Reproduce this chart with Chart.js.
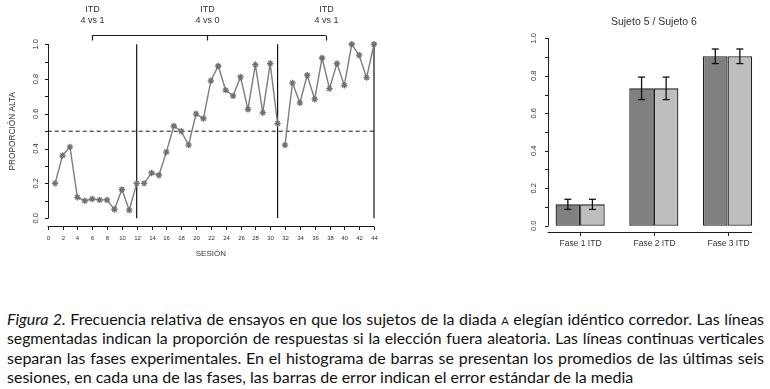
<!DOCTYPE html>
<html>
<head>
<meta charset="utf-8">
<script src="https://cdn.jsdelivr.net/npm/chart.js@4/dist/chart.umd.min.js"></script>
<style>
  html, body { margin: 0; padding: 0; background: #fff; }
  body { width: 770px; height: 389px; position: relative; overflow: hidden; }
  #left { position: absolute; left: 0; top: 0; }
  #right { position: absolute; left: 480px; top: 0; }
  #cap { position: absolute; left: 7px; top: 309px; width: 757px;
         font-family: Lato, "Open Sans", sans-serif; font-size: 16px; line-height: 19.4px; color: #111; }
  #cap .l { text-align: justify; text-align-last: justify; white-space: nowrap; }
  #cap .l.last { text-align-last: left; }
  #cap .sc { font-variant: small-caps; }
</style>
</head>
<body>
<canvas id="left" width="390" height="265"></canvas>
<canvas id="right" width="290" height="265"></canvas>
<div id="cap">
  <div class="l"><i>Figura 2.</i> Frecuencia relativa de ensayos en que los sujetos de la diada <span class="sc">a</span> elegían idéntico corredor. Las líneas</div>
  <div class="l">segmentadas indican la proporción de respuestas si la elección fuera aleatoria. Las líneas continuas verticales</div>
  <div class="l">separan las fases experimentales. En el histograma de barras se presentan los promedios de las últimas seis</div>
  <div class="l last">sesiones, en cada una de las fases, las barras de error indican el error estándar de la media</div>
</div>
<script>
// ---------- DATA ----------
const sessions = [1,2,3,4,5,6,7,8,9,10,11,12,13,14,15,16,17,18,19,20,21,22,23,24,25,26,27,28,29,30,31,32,33,34,35,36,37,38,39,40,41,42,43,44];
const proportionAlta = [0.20,0.36,0.41,0.12,0.10,0.11,0.105,0.105,0.05,0.165,0.046,0.20,
                        0.20,0.26,0.247,0.38,0.53,0.50,0.42,0.60,0.573,0.79,0.875,0.736,0.703,0.812,0.626,0.883,0.607,0.889,0.544,
                        0.42,0.778,0.663,0.822,0.684,0.921,0.745,0.889,0.764,1.0,0.937,0.808,1.0];
const phaseBreaks = [12, 31, 44];          // continuous vertical lines (last session of each phase)
const chanceLevel = 0.5;                    // dashed line
const phaseLabelSessions = [6, 21.5, 37.5];
const phaseLabels = [["ITD","4 vs 1"],["ITD","4 vs 0"],["ITD","4 vs 1"]];
const xTickLabels = ["0","2","4","6","8","10","12","14","16","18","20","22","24","26","28","30","32","34","36","38","40","42","44"];
const yTickLabels = ["0.0","0.2","0.4","0.6","0.8","1.0"];
const xAxisTitle = "SESIÓN";
const yAxisTitle = "PROPORCIÓN ALTA";

const barTitle = "Sujeto 5 / Sujeto 6";
const barCategories = ["Fase 1 ITD","Fase 2 ITD","Fase 3 ITD"];
const sujeto5Mean = [0.114, 0.733, 0.904];
const sujeto5SE   = [0.027, 0.060, 0.039];
const sujeto6Mean = [0.114, 0.733, 0.904];
const sujeto6SE   = [0.027, 0.060, 0.039];

// ---------- helpers ----------
const AX = '#1c1c1c', TXT = '#333';
function seg(ctx, x1, y1, x2, y2) { ctx.beginPath(); ctx.moveTo(x1, y1); ctx.lineTo(x2, y2); ctx.stroke(); }

function drawYAxis(chart, o) {
  const { ctx, chartArea: ca } = chart; const ys = chart.scales.y;
  const vals = o.yLabels.map(parseFloat);
  const lo = vals[0], hi = vals[vals.length - 1];
  ctx.save();
  ctx.strokeStyle = AX; ctx.lineWidth = 1;
  const ax = Math.round(ca.left) + 0.5;
  seg(ctx, ax, ys.getPixelForValue(lo), ax, ys.getPixelForValue(hi));
  for (let v = lo; v <= hi + 1e-9; v += o.yMinor) {
    const p = Math.round(ys.getPixelForValue(v)) + 0.5;
    seg(ctx, ax - o.tickLen, p, ax, p);
  }
  ctx.fillStyle = TXT; ctx.font = o.yFont; ctx.textAlign = 'center'; ctx.textBaseline = 'middle';
  o.yLabels.forEach((lab, i) => {
    ctx.save();
    ctx.translate(ax - o.yLabOff, ys.getPixelForValue(vals[i]));
    ctx.rotate(-Math.PI / 2);
    ctx.fillText(lab, 0, 0);
    ctx.restore();
  });
  ctx.restore();
}

// ---------- LEFT: line chart ----------
const pts = sessions.map((s, i) => ({ x: s, y: proportionAlta[i] }));
const phaseStarts = [1].concat(phaseBreaks.slice(0, -1).map(b => b + 1));
const lineSets = phaseBreaks.map((b, k) => ({
  type: 'line',
  data: pts.filter(p => p.x >= phaseStarts[k] && p.x <= b),
  borderColor: '#7d7d7d', borderWidth: 1.4,
  pointStyle: 'star', pointRadius: 3.2, pointBorderColor: '#707070', pointBorderWidth: 1.3,
  pointBackgroundColor: '#707070', tension: 0, clip: false, order: 1
}));
const chanceSet = {
  type: 'line',
  data: [{ x: 0, y: chanceLevel }, { x: sessions[sessions.length - 1], y: chanceLevel }],
  borderColor: '#111', borderWidth: 1, borderDash: [4, 3], pointRadius: 0, clip: false, order: 2
};
const breakSets = phaseBreaks.map(b => ({
  type: 'line',
  data: [{ x: b, y: 0 }, { x: b, y: 1 }],
  borderColor: '#111', borderWidth: 1.2, pointRadius: 0, clip: false, order: 2
}));

const leftDecor = {
  id: 'leftDecor',
  afterDraw(chart) {
    const { ctx, chartArea: ca } = chart; const xs = chart.scales.x, ys = chart.scales.y;
    drawYAxis(chart, { yLabels: yTickLabels, yMinor: 0.1, tickLen: 3.5, yLabOff: 12.5, yFont: '7.5px "Liberation Sans", Arial, sans-serif' });
    ctx.save();
    ctx.strokeStyle = AX; ctx.lineWidth = 1;
    const xv = xTickLabels.map(parseFloat);
    const yb = Math.round(ca.bottom) + 0.5;
    seg(ctx, xs.getPixelForValue(xv[0]), yb, xs.getPixelForValue(xv[xv.length - 1]), yb);
    ctx.fillStyle = TXT; ctx.font = '6px "Liberation Sans", Arial, sans-serif';
    ctx.textAlign = 'center'; ctx.textBaseline = 'middle';
    xv.forEach((v, i) => {
      const p = Math.round(xs.getPixelForValue(v)) + 0.5;
      seg(ctx, p, yb, p, yb + 3.5);
      ctx.fillText(xTickLabels[i], p, yb + 11.5);
    });
    ctx.font = '8px "Liberation Sans", Arial, sans-serif';
    ctx.fillText(xAxisTitle, xs.getPixelForValue(22), yb + 27);
    ctx.save();
    ctx.translate(13, ys.getPixelForValue(0.5));
    ctx.rotate(-Math.PI / 2);
    ctx.font = '8.3px "Liberation Sans", Arial, sans-serif';
    ctx.fillText(yAxisTitle, 0, 0);
    ctx.restore();
    const by = Math.round(ca.top) - 0.5 - 1;
    const xA = xs.getPixelForValue(phaseLabelSessions[0]);
    const xB = xs.getPixelForValue(phaseLabelSessions[phaseLabelSessions.length - 1]);
    ctx.lineWidth = 1.2;
    seg(ctx, xA, by, xB, by);
    ctx.font = '9px "Liberation Sans", Arial, sans-serif';
    phaseLabelSessions.forEach((s, i) => {
      const p = Math.round(xs.getPixelForValue(s)) + 0.5;
      seg(ctx, p, by, p, by + 5);
      ctx.fillText(phaseLabels[i][0], p, by - 25.5);
      ctx.fillText(phaseLabels[i][1], p, by - 14.5);
    });
    ctx.restore();
  }
};

new Chart(document.getElementById('left'), {
  type: 'line',
  data: { datasets: [...breakSets, chanceSet, ...lineSets] },
  options: {
    responsive: false, animation: false, devicePixelRatio: 1,
    layout: { padding: { left: 47.7, right: 16, top: 37.3, bottom: 39 } },
    scales: {
      x: { type: 'linear', min: 0, max: 44, display: false },
      y: { type: 'linear', min: -0.045, max: 1.04, display: false }
    },
    plugins: { legend: { display: false }, tooltip: { enabled: false } }
  },
  plugins: [leftDecor]
});

// ---------- RIGHT: bar chart ----------
const groupPos = barCategories.map((_, i) => 2 + 3 * i);
const errPlugin = {
  id: 'errBars',
  afterDatasetsDraw(chart) {
    const { ctx } = chart; const ys = chart.scales.y;
    ctx.save(); ctx.strokeStyle = '#111'; ctx.lineWidth = 1.3;
    chart.data.datasets.forEach((ds, di) => {
      chart.getDatasetMeta(di).data.forEach((el, i) => {
        const m = ds.data[i].y, se = ds.se[i];
        const t = ys.getPixelForValue(m + se), b = ys.getPixelForValue(m - se);
        seg(ctx, el.x, t, el.x, b);
        seg(ctx, el.x - 3.5, t, el.x + 3.5, t);
        seg(ctx, el.x - 3.5, b, el.x + 3.5, b);
      });
    });
    ctx.restore();
  }
};
const rightDecor = {
  id: 'rightDecor',
  afterDraw(chart) {
    const { ctx, chartArea: ca } = chart; const xs = chart.scales.x;
    drawYAxis(chart, { yLabels: yTickLabels, yMinor: 0.1, tickLen: 3.5, yLabOff: 14.5, yFont: '7.5px "Liberation Sans", Arial, sans-serif' });
    ctx.save(); ctx.strokeStyle = AX; ctx.lineWidth = 1;
    const meta = chart.getDatasetMeta(chart.data.datasets.length - 1);
    const last = meta.data[meta.data.length - 1];
    const yb = Math.round(ca.bottom) + 0.5;
    seg(ctx, ca.left, yb, last.x + last.width / 2, yb);
    ctx.fillStyle = TXT; ctx.font = '8.5px "Liberation Sans", Arial, sans-serif';
    ctx.textAlign = 'center'; ctx.textBaseline = 'middle';
    groupPos.forEach((g, i) => {
      const p = Math.round(xs.getPixelForValue(g)) + 0.5;
      seg(ctx, p, yb, p, yb + 3.5);
      ctx.fillText(barCategories[i], p, yb + 11.5);
    });
    ctx.font = '10.5px "Liberation Sans", Arial, sans-serif';
    ctx.fillText(barTitle, xs.getPixelForValue(groupPos[1]), 22.5);
    ctx.restore();
  }
};

const barCommon = { borderColor: '#1e1e1e', borderWidth: 1.3, borderSkipped: false,
                    categoryPercentage: 2 / 3, barPercentage: 1 };
new Chart(document.getElementById('right'), {
  type: 'bar',
  data: {
    datasets: [
      Object.assign({ label: 'Sujeto 5', data: groupPos.map((g, i) => ({ x: g, y: sujeto5Mean[i] })), se: sujeto5SE,
        backgroundColor: '#808080' }, barCommon),
      Object.assign({ label: 'Sujeto 6', data: groupPos.map((g, i) => ({ x: g, y: sujeto6Mean[i] })), se: sujeto6SE,
        backgroundColor: '#bebebe' }, barCommon)
    ]
  },
  options: {
    responsive: false, animation: false, devicePixelRatio: 1,
    layout: { padding: { left: 67.7, right: 10, top: 30.8, bottom: 33.3 } },
    scales: {
      x: { type: 'linear', offset: false, min: 0.68, max: 9.32, display: false,
           grid: { offset: false },
           afterBuildTicks: s => { s.ticks = groupPos.map(v => ({ value: v })); } },
      y: { type: 'linear', min: -0.032, max: 1.04, display: false }
    },
    plugins: { legend: { display: false }, tooltip: { enabled: false } }
  },
  plugins: [errPlugin, rightDecor]
});

// keep caption lines inside their width
document.querySelectorAll('#cap .l').forEach(l => {
  let fs = 16;
  while (l.scrollWidth > l.clientWidth + 0.5 && fs > 12) { fs -= 0.25; l.style.fontSize = fs + 'px'; }
});
</script>
</body>
</html>
